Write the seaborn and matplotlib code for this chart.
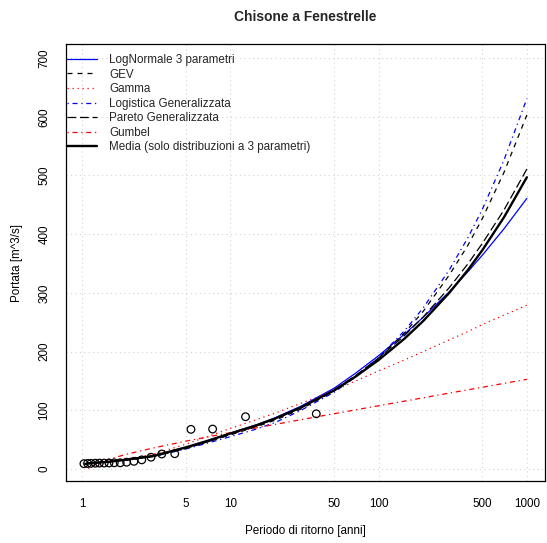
import numpy as np
import matplotlib
matplotlib.use("Agg")
import matplotlib.pyplot as plt
import seaborn as sns

# Return periods (anni) where the curves are read
T = [1.05, 1.1, 1.25, 1.5, 2, 3, 5, 7, 10, 15, 20, 30, 50, 70,
     100, 150, 200, 300, 400, 500, 700, 1000]

lognormale3 = [9, 10, 11, 12.5, 16, 22, 37, 48, 61, 75, 87, 107, 137.4, 163.2,
               193, 230, 258.6, 302, 336, 364, 409, 461]
gev = [8.5, 9.5, 10.5, 12, 15.5, 21, 35, 46, 58, 72, 83, 102, 132.7, 157.7,
       189, 232.2, 268.5, 330.5, 381, 426.3, 505, 603]
gamma = [8.5, 9, 10.5, 12.5, 17, 25, 42, 55, 69, 84, 95, 112, 133, 150,
         167, 186, 200, 220, 234, 246, 262, 279]
logistica = [8.5, 9.5, 10.5, 12, 15.5, 21, 34, 44, 55, 68, 79, 100, 130.6, 156.7,
             190, 235.9, 274.5, 339.3, 394, 442, 526, 631]
pareto = [8, 9, 10.5, 12, 15.5, 21, 35, 46, 59, 73, 85, 104, 134.6, 159.2,
          189, 227.6, 259, 309, 349.4, 384, 441, 511]
gumbel = [np.nan, 0.9, 8.7, 16.2, 25.2, 35.6, 47.3, 54.5, 61.9, 70.1, 75.9, 84.0, 94.1, 100.7,
          107.7, 115.6, 121.3, 129.3, 134.8, 139.2, 145.8, 152.7]
media = [8.5, 9.4, 10.6, 12.2, 15.9, 22, 36.6, 47.8, 60.4, 74.4, 85.8, 105, 133.7, 157.4,
         185.6, 222.3, 252.1, 300.2, 338.9, 372.5, 428.6, 497]

# Observed maxima with their plotting positions
T_obs = [38.0, 12.67, 7.6, 5.43, 4.22, 3.45, 2.92, 2.53, 2.24, 2.0,
         1.81, 1.65, 1.52, 1.41, 1.31, 1.23, 1.15, 1.09, 1.03]
Q_obs = [94, 89, 68, 67.5, 26, 25.5, 20, 15.5, 13, 11.5,
         10.5, 10.5, 10.2, 10, 10, 9.8, 9.6, 9.4, 9]

xticks = [1, 5, 10, 50, 100, 500, 1000]
yticks = [0, 100, 200, 300, 400, 500, 600, 700]

sns.set_theme(style="white")
plt.rcParams["font.family"] = ["Liberation Sans", "DejaVu Sans"]
fs = 8.4

fig = plt.figure(figsize=(5.47, 5.43), dpi=100)
fig.subplots_adjust(left=66 / 547, right=545 / 547, bottom=1 - 481 / 543, top=1 - 44 / 543)
ax = fig.add_subplot(111)

lw = 0.9
series = [
    (lognormale3, "LogNormale 3 parametri", "blue", "-", lw),
    (gev, "GEV", "black", (0, (4, 4)), lw),
    (gamma, "Gamma", "red", (0, (1, 3)), lw),
    (logistica, "Logistica Generalizzata", "blue", (0, (1, 3, 4, 3)), lw),
    (pareto, "Pareto Generalizzata", "black", (0, (7, 3)), lw),
    (gumbel, "Gumbel", "red", (0, (1, 3, 4, 3)), lw),
    (media, "Media (solo distribuzioni a 3 parametri)", "black", "-", 1.7),
]
handles = []
for vals, name, col, ls, w in series:
    sns.lineplot(x=T, y=vals, ax=ax, color=col, linestyle=ls, linewidth=w,
                 estimator=None, sort=False)
    handles.append(plt.Line2D([], [], color=col, linestyle=ls, linewidth=w, label=name))

sns.scatterplot(x=T_obs, y=Q_obs, ax=ax, marker="o", s=30,
                facecolor="none", edgecolor="black", linewidth=0.9, zorder=5)

ax.set_xscale("log")
ax.set_xlim(0.78, 1325)
ax.set_ylim(-20.5, 724)
ax.set_xticks(xticks)
ax.set_xticklabels([str(t) for t in xticks])
ax.xaxis.set_minor_locator(matplotlib.ticker.NullLocator())
ax.set_yticks(yticks)
ax.set_yticklabels([str(t) for t in yticks])

ax.grid(True, color="lightgray", linestyle=(0, (1, 3)), linewidth=0.8)
for s in ax.spines.values():
    s.set_color("black")
    s.set_linewidth(0.9)

ax.tick_params(axis="both", direction="out", length=4.3, width=0.8,
               color="black", labelsize=fs, labelcolor="black")
ax.tick_params(axis="x", pad=8)
ax.tick_params(axis="y", pad=7, labelrotation=90)
for lab in ax.get_yticklabels():
    lab.set_va("center")

ax.set_xlabel("Periodo di ritorno [anni]", fontsize=fs, color="black")
ax.set_ylabel("Portata [m^3/s]", fontsize=fs, color="black")
ax.xaxis.set_label_coords(0.5, (481 - 531) / 437)
ax.xaxis.label.set_va("center")
ax.yaxis.set_label_coords((17 - 66) / 479, 0.5)
ax.yaxis.label.set_va("center")

fig.text((66 + 545) / 2 / 547, 1 - 17 / 543, "Chisone a Fenestrelle",
         ha="center", va="center", fontsize=9.9, fontweight="bold")

ax.legend(handles=handles, loc="upper left", bbox_to_anchor=(1 / 479, (481 - 54) / 437),
          frameon=False, fontsize=fs, borderaxespad=0, borderpad=0,
          handlelength=2.6, handletextpad=1.0, labelspacing=0.22)

fig.savefig("out.png", dpi=100)
